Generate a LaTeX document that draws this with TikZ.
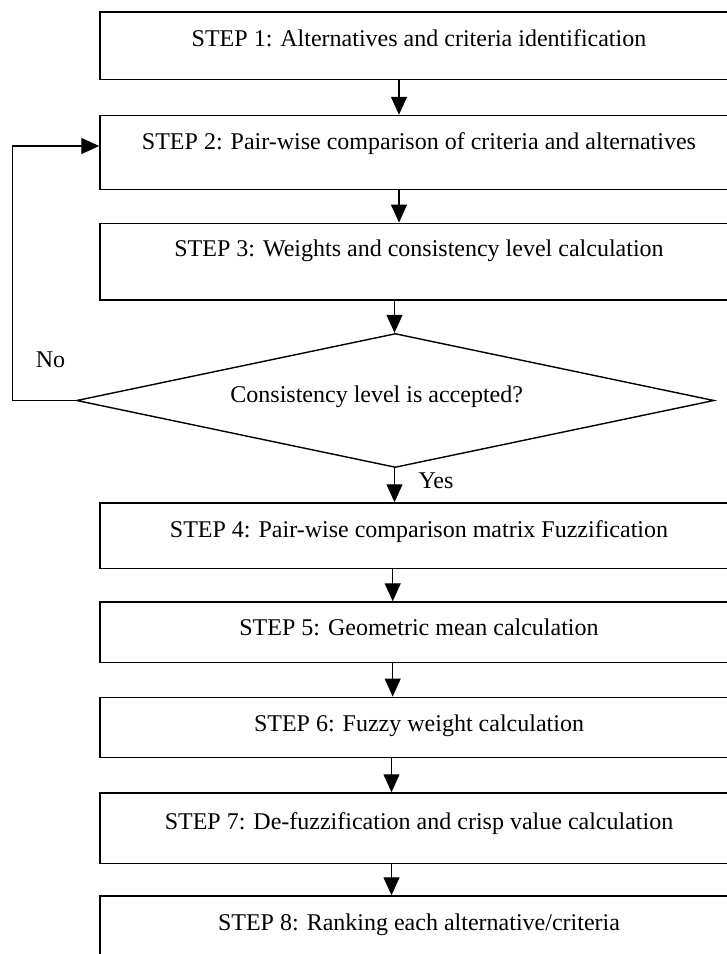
\documentclass[tikz,border=0pt]{standalone}
\usepackage{fontspec}
\setmainfont{Liberation Serif}
\usetikzlibrary{arrows.meta,shapes.geometric}
\begin{document}
\begin{tikzpicture}[x=1pt,y=-1pt,
  stepbox/.style={draw, line width=1.5pt, minimum width=638pt, inner sep=0pt},
  decision/.style={draw, diamond, line width=1.4pt, inner sep=0pt,
    minimum width=637.5pt, minimum height=134pt, shape aspect=4.76},
  txt/.style={anchor=base, inner sep=0pt, font=\fontsize{24}{29}\selectfont},
  arr/.style={line width=1.3pt, -{Triangle[length=18pt,width=16pt]}}]
\clip (0,0) rectangle (727,954);

% process steps
\node[stepbox, minimum height=67.5pt] (b1) at (419,45.75) {};
\node[stepbox, minimum height=73.8pt] (b2) at (419,152.4) {};
\node[stepbox, minimum height=76.7pt] (b3) at (419,261.65) {};
\node[decision] (d) at (395.3,400.5) {};
\node[stepbox, minimum height=65.3pt] (b4) at (419,535.65) {};
\node[stepbox, minimum height=60.3pt] (b5) at (419,632.15) {};
\node[stepbox, minimum height=60.2pt] (b6) at (419,727.4) {};
\node[stepbox, minimum height=70.3pt] (b7) at (419,828.15) {};
\node[stepbox, minimum height=80pt] (b8) at (419,936) {};

% labels
\node[txt] (t1) at (419,46.8) {STEP 1: Alternatives and criteria identification};
\node[txt] (t2) at (419,149.5) {STEP 2: Pair-wise comparison of criteria and alternatives};
\node[txt] (t3) at (419,256.3) {STEP 3: Weights and consistency level calculation};
\node[txt] (td) at (376.7,402.7) {Consistency level is accepted?};
\node[txt] (t4) at (419,537) {STEP 4: Pair-wise comparison matrix Fuzzification};
\node[txt] (t5) at (419,635) {STEP 5: Geometric mean calculation};
\node[txt] (t6) at (419,731) {STEP 6: Fuzzy weight calculation};
\node[txt] (t7) at (419,829) {STEP 7: De-fuzzification and crisp value calculation};
\node[txt] (t8) at (419,930) {STEP 8: Ranking each alternative/criteria};
\node[txt] (no) at (50.5,367.7) {No};
\node[txt] (yes) at (436,488.3) {Yes};

% connector columns
\coordinate (c1) at (399,0);
\coordinate (c2) at (394.5,0);
\coordinate (c3) at (392.7,0);
\coordinate (c4) at (391.5,0);
\coordinate (fb) at (12.7,146);

\draw[arr] (b1.south -| c1) -- (b2.north -| c1);
\draw[arr] (b2.south -| c1) -- (b3.north -| c1);
\draw[arr] (b3.south -| c2) -- (d.north -| c2);
\draw[arr] (d.south -| c2) -- (b4.north -| c2);
\draw[arr] (b4.south -| c3) -- (b5.north -| c3);
\draw[arr] (b5.south -| c3) -- (b6.north -| c3);
\draw[arr] (b6.south -| c4) -- (b7.north -| c4);
\draw[arr] (b7.south -| c4) -- (b8.north -| c4);

% feedback loop
\draw[arr] (d.west) -| (fb) -- (fb -| b2.west);
\end{tikzpicture}
\end{document}
